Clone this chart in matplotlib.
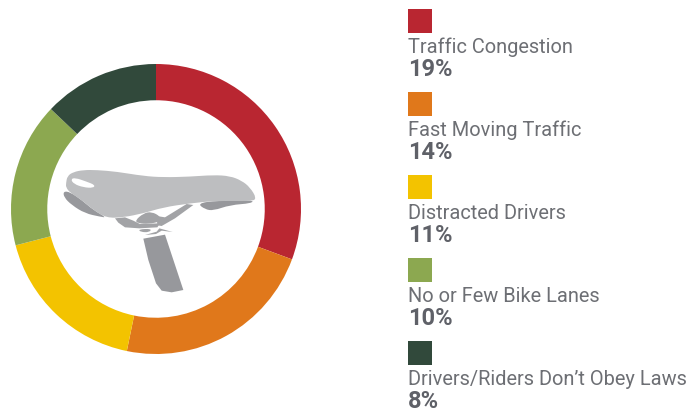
# -*- coding: UTF-8 -*-
from matplotlib import pyplot as plt
from matplotlib.patches import PathPatch, Rectangle
from matplotlib.path import Path
import numpy as np

labels = ['Traffic Congestion', 'Fast Moving Traffic', 'Distracted Drivers',
          'No or Few Bike Lanes', "Drivers/Riders Don\u2019t Obey Laws"]
values = [19, 14, 11, 10, 8]
colors = ['#B92631', '#E0781B', '#F3C300', '#8CA850', '#31493B']
legend_tops = [9, 92, 175, 258, 341]

# saddle outline, traced in px of the 3x crop at (50,150)
saddle_top = [(48,100),(52,78),(70,66),(100,60),(140,60),(200,65),(280,78),(340,82),(420,80),(490,75),
              (540,78),(575,92),(600,112),(620,145),(605,154),(500,152),(420,160),(340,172),(280,190),
              (220,202),(170,204),(130,180),(95,150),(60,128),(48,112)]
saddle_hole = [(62,88),(75,83),(110,95),(135,105),(130,114),(100,112),(72,102)]
saddle_under = [(40,124),(60,126),(95,150),(130,180),(170,203),(150,200),(105,190),(65,165),(42,142)]
saddle_tail = [(442,160),(500,152),(610,150),(605,160),(540,165),(490,182),(465,178)]
rail_l = [(195,205),(225,202),(250,212),(270,222),(330,220),(322,232),(268,235),(225,232),(205,218)]
rail_r = [(320,198),(345,202),(410,162),(430,165),(375,205),(335,228),(322,226)]
clamp = [(255,212),(280,190),(305,185),(332,200),(330,215),(295,222),(265,220)]
clamp2 = [(265,238),(305,236),(298,247),(272,246)]
fin = [(328,235),(368,246),(335,242),(318,252),(285,255),(320,245)]
post = [(280,266),(345,254),(400,420),(365,427),(335,422),(318,400),(295,330)]

fig = plt.figure(figsize=(6.96, 4.11), dpi=100)
ax = fig.add_axes([0, 0, 1, 1])
ax.set_xlim(0, 696)
ax.set_ylim(411, 0)
ax.axis('off')

# donut
pie_ax = fig.add_axes([(156 - 146) / 696, 1 - (209 + 146) / 411, 292 / 696, 292 / 411])
pie_ax.pie(values, colors=colors, startangle=90, counterclock=False, radius=1.0,
           wedgeprops=dict(width=0.25, linewidth=0))
pie_ax.set_xlim(-146 / 145, 146 / 145)
pie_ax.set_ylim(-146 / 145, 146 / 145)
pie_ax.set_aspect('equal')

def smooth_path(points):
    # rounded closed outline: each traced point is a control point, midpoints are on the curve
    pts = np.array(points, dtype=float) / 3.0 + np.array([50, 150])
    mids = (pts + np.roll(pts, -1, axis=0)) / 2.0
    verts = [mids[-1]]
    codes = [Path.MOVETO]
    for p, m in zip(pts, mids):
        verts += [p, m]
        codes += [Path.CURVE3, Path.CURVE3]
    return Path(verts, codes)

def sharp_path(points):
    pts = np.array(points, dtype=float) / 3.0 + np.array([50, 150])
    return Path(np.vstack([pts, pts[0]]), closed=True)

for make, shape, col in [(smooth_path, saddle_under, '#97989C'), (smooth_path, saddle_tail, '#97989C'),
                         (sharp_path, rail_l, '#A2A3A6'), (sharp_path, rail_r, '#A2A3A6'),
                         (smooth_path, clamp, '#A2A3A6'), (smooth_path, clamp2, '#A2A3A6'),
                         (sharp_path, fin, '#A2A3A6'), (sharp_path, post, '#97989C'),
                         (smooth_path, saddle_top, '#BDBEC0'), (smooth_path, saddle_hole, '#FFFFFF')]:
    ax.add_patch(PathPatch(make(shape), facecolor=col, edgecolor='none', zorder=5))
ax.set_zorder(2)
ax.patch.set_alpha(0)

# legend
for top, lab, val, col in zip(legend_tops, labels, values, colors):
    ax.add_patch(Rectangle((408, top), 24, 24, facecolor=col, edgecolor='none'))
    ax.text(408, top + 38, lab, fontsize=14.4, color='#6D6F74', family='Roboto', va='center', ha='left')
    ax.text(408, top + 60, '%d%%' % val, fontsize=17, color='#5F6168', family='Roboto',
            fontweight='bold', va='center', ha='left')

fig.savefig('out.png', dpi=100)
